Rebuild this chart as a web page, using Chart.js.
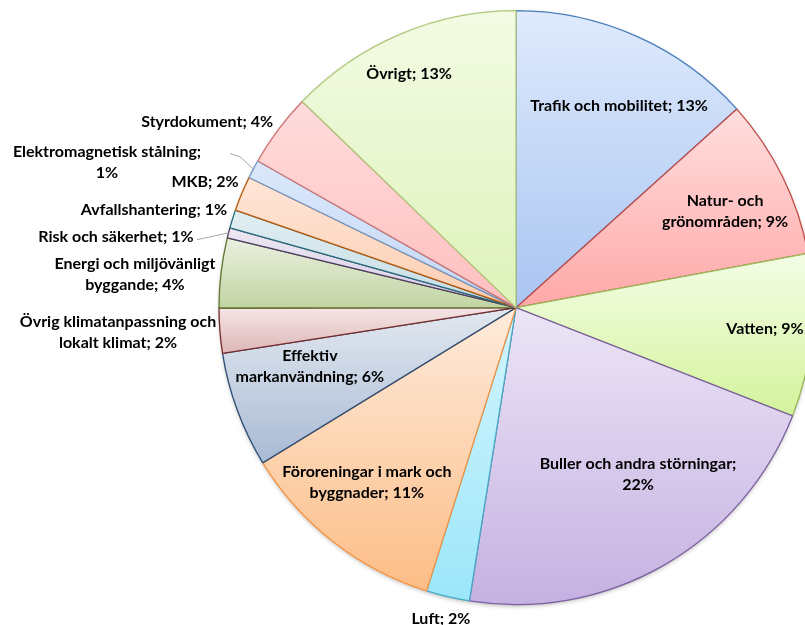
<!DOCTYPE html>
<html>
<head>
<meta charset="utf-8">
<script src="https://cdn.jsdelivr.net/npm/chart.js@4.4.1/dist/chart.umd.min.js"></script>
<style>
  html, body { margin: 0; padding: 0; overflow: hidden; background: #fff; }
  #wrap { width: 1032px; height: 625px; }
</style>
</head>
<body>
<div id="wrap"><canvas id="pie" width="1032" height="625"></canvas></div>
<script>
// --- DATA ---
const categories = [
    'Trafik och mobilitet',
    'Natur- och grönområden',
    'Vatten',
    'Buller och andra störningar',
    'Luft',
    'Föroreningar i mark och byggnader',
    'Effektiv markanvändning',
    'Övrig klimatanpassning och lokalt klimat',
    'Energi och miljövänligt byggande',
    'Risk och säkerhet',
    'Avfallshantering',
    'MKB',
    'Elektromagnetisk stålning',
    'Styrdokument',
    'Övrigt'
];
const values = [13.36, 8.74, 8.87, 21.6, 2.36, 11.4, 6.3, 2.44, 3.8, 0.55, 1.0, 1.9, 1.0, 4.0, 12.8];

// --- STYLE ---
const fillTop = ['#dfeafc', '#ffdede', '#f4fde6', '#ece5f6', '#d4f5fd', '#feebdc', '#e2e8f0', '#f5e6e6',
    '#eaf0e0', '#ece7f2', '#e0eef2', '#ffe6d8', '#dbe8fb', '#ffdcdc', '#f3fbe4'];
const fillBottom = ['#a9c5f2', '#ffa8a8', '#d4f39c', '#c5b1e2', '#9ce6fa', '#fcbd86', '#a9bad4', '#ddb6b6',
    '#c2d4a2', '#d9cee7', '#c5dde4', '#fbcdb0', '#c5d8f6', '#ffbfbf', '#def2ba'];
const borders = ['#4a7ebb', '#be4b48', '#98b954', '#7d60a0', '#46aac5', '#f69240', '#2c4d75', '#772c2a',
    '#5f7530', '#4d3b62', '#276a7c', '#b65708', '#729aca', '#cd7371', '#afc97a'];

// label layout: words on first line (0 = one line), centre in radius units from pie centre
const labelBreak = [0, 2, 0, 4, 0, 4, 1, 3, 3, 0, 0, 0, 2, 0, 0];
const labelAt = [
    [0.347, -0.680], [0.704, -0.323], [0.838, 0.071], [0.411, 0.562], [-0.253, 1.047],
    [-0.502, 0.589], [-0.694, 0.199], [-1.340, 0.084], [-1.283, -0.111], [-1.347, -0.239],
    [-1.219, -0.330], [-1.047, -0.424], [-1.377, -0.488], [-1.040, -0.626], [-0.360, -0.788]
];
const leaders = [
    { i: 9, pts: [[-1.074, -0.229]] },
    { i: 12, pts: [[-0.963, -0.519], [-0.929, -0.508]] }
];

const BORDER_W = 1.3;
const LINE_H = 21;
const total = values.reduce((a, b) => a + b, 0);

// vertical gradient over each slice's own extent
const sliceFill = (c) => {
    const i = c.dataIndex;
    const chart = c.chart;
    const area = chart.chartArea;
    if (!area) return fillBottom[i];
    const cx = (area.left + area.right) / 2;
    const cy = (area.top + area.bottom) / 2;
    const r = (Math.min(area.width, area.height) - BORDER_W) / 2;
    let a0 = -Math.PI / 2;
    for (let k = 0; k < i; k++) a0 += values[k] / total * Math.PI * 2;
    const a1 = a0 + values[i] / total * Math.PI * 2;
    const ys = [cy, cy + r * Math.sin(a0), cy + r * Math.sin(a1)];
    [-Math.PI / 2, Math.PI / 2, Math.PI * 1.5].forEach(q => {
        if (q >= a0 && q <= a1) ys.push(cy + r * Math.sin(q));
    });
    const top = Math.min(...ys), bottom = Math.max(...ys);
    const g = chart.ctx.createLinearGradient(0, top, 0, bottom + 0.01);
    g.addColorStop(0, fillTop[i]);
    g.addColorStop(1, fillBottom[i]);
    return g;
};

// soft shadow under the pie
const pieShadow = {
    id: 'pieShadow',
    beforeDatasetsDraw(chart) {
        const arc = chart.getDatasetMeta(0).data[0];
        if (!arc) return;
        const { x, y, outerRadius } = arc.getProps(['x', 'y', 'outerRadius']);
        const c = chart.ctx;
        c.save();
        c.shadowColor = 'rgba(0,0,0,0.35)';
        c.shadowBlur = 5;
        c.shadowOffsetY = 2;
        c.fillStyle = '#fff';
        c.beginPath();
        c.arc(x, y, outerRadius - 1, 0, Math.PI * 2);
        c.fill();
        c.restore();
    }
};

const pieLabels = {
    id: 'pieLabels',
    afterDatasetsDraw(chart) {
        const meta = chart.getDatasetMeta(0);
        const c = chart.ctx;
        c.save();

        // leader lines
        c.strokeStyle = '#a6a6a6';
        c.lineWidth = 1;
        leaders.forEach(l => {
            const arc = meta.data[l.i];
            const { x, y, startAngle, endAngle, outerRadius: r } =
                arc.getProps(['x', 'y', 'startAngle', 'endAngle', 'outerRadius']);
            const mid = (startAngle + endAngle) / 2;
            c.beginPath();
            l.pts.forEach((p, k) => {
                const px = x + p[0] * r, py = y + p[1] * r;
                if (k === 0) c.moveTo(px, py); else c.lineTo(px, py);
            });
            c.lineTo(x + Math.cos(mid) * r, y + Math.sin(mid) * r);
            c.stroke();
        });

        c.font = 'bold 16px Lato';
        c.fillStyle = '#000';
        c.textAlign = 'center';
        c.textBaseline = 'middle';
        meta.data.forEach((arc, i) => {
            const { x, y, outerRadius: r } = arc.getProps(['x', 'y', 'outerRadius']);
            const pct = Math.round(values[i] / total * 100);
            const words = `${categories[i]}; ${pct}%`.split(' ');
            const n = labelBreak[i];
            const lines = n ? [words.slice(0, n).join(' '), words.slice(n).join(' ')] : [words.join(' ')];
            const lx = x + labelAt[i][0] * r;
            const ly = y + labelAt[i][1] * r;
            lines.forEach((t, k) => c.fillText(t, lx, ly + (k - (lines.length - 1) / 2) * LINE_H));
        });
        c.restore();
    }
};

new Chart(document.getElementById('pie'), {
    type: 'pie',
    data: {
        labels: categories,
        datasets: [{
            data: values,
            backgroundColor: sliceFill,
            borderColor: borders,
            borderWidth: BORDER_W,
            offset: 0,
            hoverOffset: 0
        }]
    },
    options: {
        responsive: false,
        animation: false,
        events: [],
        layout: { padding: { top: 10, left: 10, right: 10, bottom: 19.7 } },
        plugins: {
            legend: { display: false },
            tooltip: { enabled: false }
        }
    },
    plugins: [pieShadow, pieLabels]
});
</script>
</body>
</html>
